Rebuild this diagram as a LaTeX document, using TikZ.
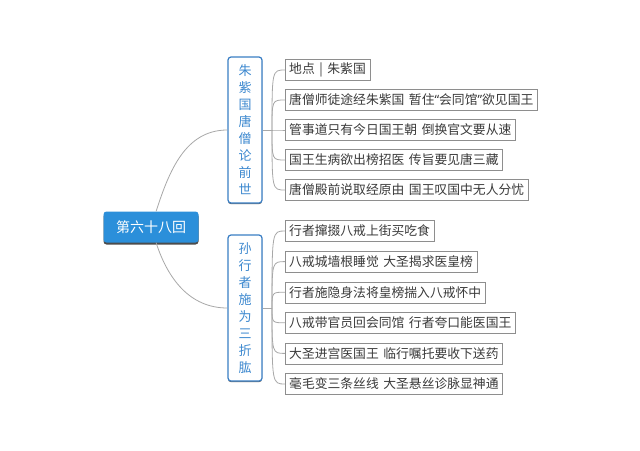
\documentclass[tikz,border=0pt]{standalone}
\usepackage{fontspec}
\setmainfont[WordSpace=1.6]{Noto Sans CJK SC}
\newfontfamily\quotefont{Noto Sans}
\usetikzlibrary{shadows}
\definecolor{rootblue}{HTML}{2B8FDA}
\definecolor{branchblue}{HTML}{3A7EC4}
\definecolor{branchtext}{HTML}{3C88CF}
\definecolor{itemline}{HTML}{8E8E8E}
\definecolor{itemtext}{HTML}{3A3A3A}
\definecolor{linkgray}{HTML}{A8A8A8}
\begin{document}
\begin{tikzpicture}[x=1pt,y=-1pt,
    root/.style={rectangle,rounded corners=3pt,fill=rootblue,text=white,minimum width=95pt,minimum height=31pt,font=\fontsize{14}{16}\selectfont,general shadow={shadow yshift=-2pt,fill=black!70}},
    branch/.style={rectangle,rounded corners=3pt,draw=branchblue,line width=1.2pt,fill=white,text=branchtext,minimum width=34pt,minimum height=146pt,align=center,font=\fontsize{13}{17}\selectfont,general shadow={shadow yshift=-1.2pt,fill=black!60}},
    item/.style={rectangle,draw=itemline,fill=white,text=itemtext,anchor=west,minimum height=21pt,inner xsep=4pt,font=\fontsize{12.8}{14}\selectfont},
    link/.style={draw=linkgray,line width=0.8pt}]
    \useasboundingbox[fill=white] (0,0) rectangle (640,450);
    \node[root] (root) at (151,227) {第六十八回};
    \node[branch] (b1) at (245,130) {朱\\紫\\国\\唐\\僧\\论\\前\\世};
    \node[branch] (b2) at (245,308) {孙\\行\\者\\施\\为\\三\\折\\肱};
    \coordinate (h1) at (272,130);
    \coordinate (h2) at (272,308);
    \node[item] (a1) at (285,70) {地点 | 朱紫国};
    \node[item] (a2) at (285,100) {唐僧师徒途经朱紫国 暂住{\quotefont“}会同馆{\quotefont”}欲见国王};
    \node[item] (a3) at (285,130) {管事道只有今日国王朝 倒换官文要从速};
    \node[item] (a4) at (285,160) {国王生病欲出榜招医 传旨要见唐三藏};
    \node[item] (a5) at (285,190) {唐僧殿前说取经原由 国王叹国中无人分忧};
    \node[item] (s1) at (285,231) {行者撺掇八戒上街买吃食};
    \node[item] (s2) at (285,261.6) {八戒城墙根睡觉 大圣揭求医皇榜};
    \node[item] (s3) at (285,292.2) {行者施隐身法将皇榜揣入八戒怀中};
    \node[item] (s4) at (285,322.8) {八戒带官员回会同馆 行者夸口能医国王};
    \node[item] (s5) at (285,353.4) {大圣进宫医国王 临行嘱托要收下送药};
    \node[item] (s6) at (285,384) {毫毛变三条丝线 大圣悬丝诊脉显神通};
    \draw[link] (root) to[out=72,in=180] (b1);
    \draw[link] (root) to[out=-72,in=180] (b2);
    \draw[link] (b1) -- (h1);
    \draw[link] (b2) -- (h2);
    \foreach \i in {1,...,5}
        \draw[link] (h1) .. controls (h1 |- a\i.west) .. (a\i.west);
    \foreach \i in {1,...,6}
        \draw[link] (h2) .. controls (h2 |- s\i.west) .. (s\i.west);
\end{tikzpicture}
\end{document}
